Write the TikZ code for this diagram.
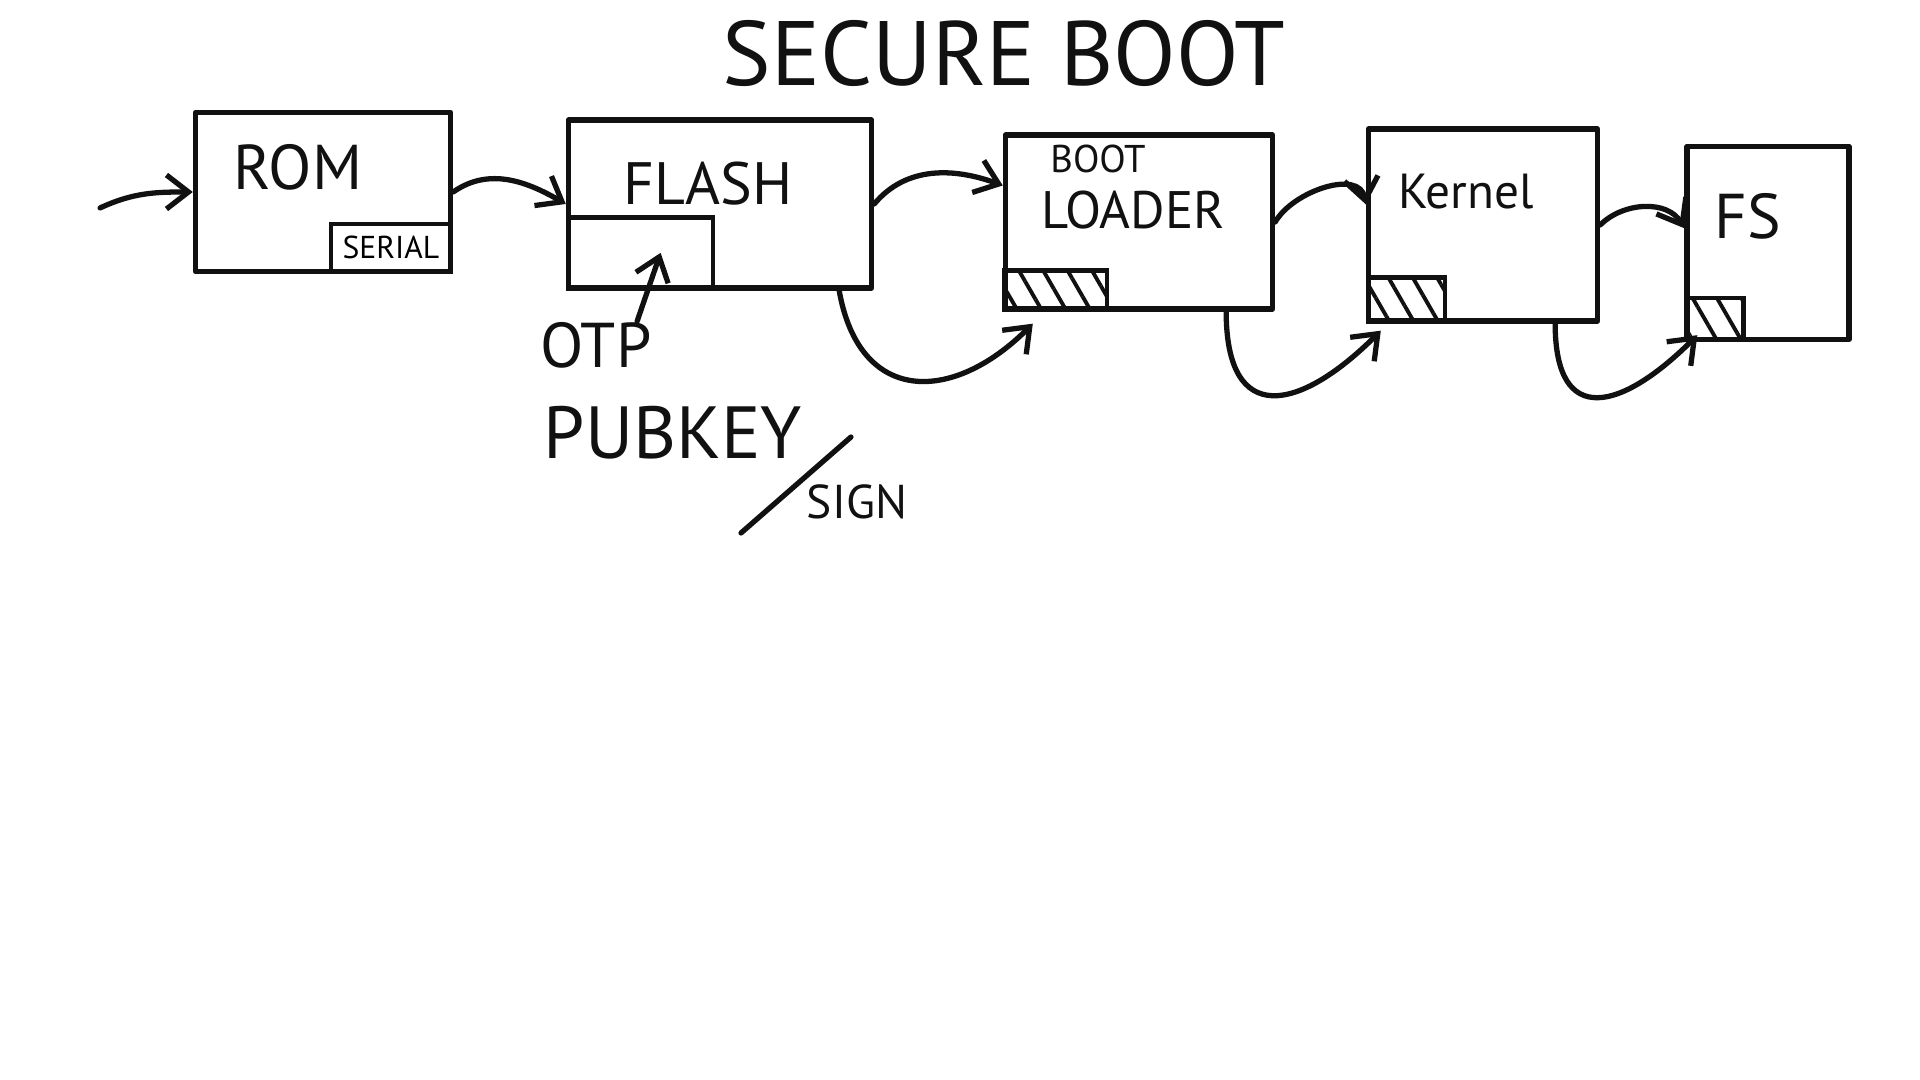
\documentclass[tikz,border=0pt]{standalone}
\usepackage{fontspec}
\setmainfont{PT Sans}
\usepackage{tikz}
\usetikzlibrary{arrows.meta,patterns.meta}
\definecolor{ink}{HTML}{111111}
\definecolor{paper}{HTML}{FFFFFF}
\tikzset{
  box/.style={draw=ink, line width=1.5pt, line join=round, inner sep=0pt},
  sub/.style={draw=ink, line width=1.3pt, inner sep=0pt},
  hatch/.style={draw=ink, line width=1.3pt, inner sep=0pt,
    pattern={Lines[angle=-60,distance=6pt,line width=1.1pt]}, pattern color=ink},
  arr/.style={draw=ink, line width=1.5pt, line cap=round,
    -{Straight Barb[length=2.2mm,width=3.4mm]}},
  stroke/.style={draw=ink, line width=1.5pt, line cap=round},
  lab/.style={text=ink, inner sep=0pt},
}
\newcommand{\handsize}[1]{\fontsize{#1}{#1}\selectfont}

\begin{document}
\begin{tikzpicture}[x=0.01cm, y=-0.01cm]
  \useasboundingbox[fill=paper] (0,0) rectangle (1920,1080);
  \node[lab,font=\handsize{26}] (title) at (1004,54) {SECURE BOOT};

  % stages
  \node[box,minimum width=2.55cm,minimum height=1.59cm] (rom) at (323,192) {};
  \node[box,minimum width=3.03cm,minimum height=1.68cm] (flash) at (720,204) {};
  \node[box,minimum width=2.67cm,minimum height=1.74cm] (bl) at (1139,222) {};
  \node[box,minimum width=2.29cm,minimum height=1.92cm] (kern) at (1483,225) {};
  \node[box,minimum width=1.62cm,minimum height=1.93cm] (fs) at (1768,243) {};

  \node[lab,font=\handsize{18}] (romtxt) at (298,167) {ROM};
  \node[lab,font=\handsize{17}] (flashtxt) at (708,184) {FLASH};
  \node[lab,font=\handsize{11}] (boottxt) at (1098,159) {BOOT};
  \node[lab,font=\handsize{15}] (loadtxt) at (1133,210) {LOADER};
  \node[lab,font=\handsize{14}] (kerntxt) at (1466,192) {Kernel};
  \node[lab,font=\handsize{18}] (fstxt) at (1748,216) {FS};

  % parts inside the stages
  \node[sub,anchor=south east,minimum width=1.2cm,minimum height=0.48cm,
    font=\handsize{9}] (serial) at (rom.south east) {SERIAL};
  \node[sub,anchor=south west,minimum width=1.45cm,minimum height=0.71cm] (otpbox) at (flash.south west) {};
  \node[hatch,anchor=south west,minimum width=1.02cm,minimum height=0.39cm] (blsig) at (bl.south west) {};
  \node[hatch,anchor=south west,minimum width=0.77cm,minimum height=0.44cm] (kernsig) at (kern.south west) {};
  \node[hatch,anchor=south west,minimum width=0.57cm,minimum height=0.42cm] (fssig) at (fs.south west) {};

  % key note
  \node[lab,font=\handsize{18}] (otp) at (596,345) {OTP};
  \node[lab,font=\handsize{21}] (pubkey) at (673,433) {PUBKEY};
  \node[lab,font=\handsize{13.5}] (sign) at (857,502) {SIGN};
  \coordinate (slashlo) at (741,533);
  \coordinate (slashhi) at (851,437);
  \draw[stroke] (slashlo) -- (slashhi);
  \draw[arr] ([xshift=-0.15cm]otp.north east) -- ([xshift=0.2cm]otpbox.center);

  % boot chain
  \coordinate (entry) at (100,208);
  \draw[arr] (entry) to[out=25,in=180] (rom.west);
  \draw[arr] (rom.east) to[out=35,in=150] (flash.west);
  \draw[arr] (flash.east) to[out=50,in=160] (bl.165);
  \draw[arr] (bl.east) to[out=60,in=100] (kern.170);
  \draw[arr] (kern.east) to[out=45,in=120] (fs.170);

  % verification
  \draw[arr] ([xshift=-0.35cm]flash.south east) to[out=-80,in=-135,looseness=1.5]
    ([xshift=0.3cm,yshift=-0.12cm]bl.south west);
  \draw[arr] ([xshift=-0.49cm]bl.south east) to[out=-90,in=-135,looseness=1.9]
    ([xshift=0.15cm,yshift=-0.07cm]kern.south west);
  \draw[arr] ([xshift=-0.45cm]kern.south east) to[out=-90,in=-135,looseness=1.9]
    ([xshift=0.13cm,yshift=0.07cm]fs.south west);
\end{tikzpicture}
\end{document}
